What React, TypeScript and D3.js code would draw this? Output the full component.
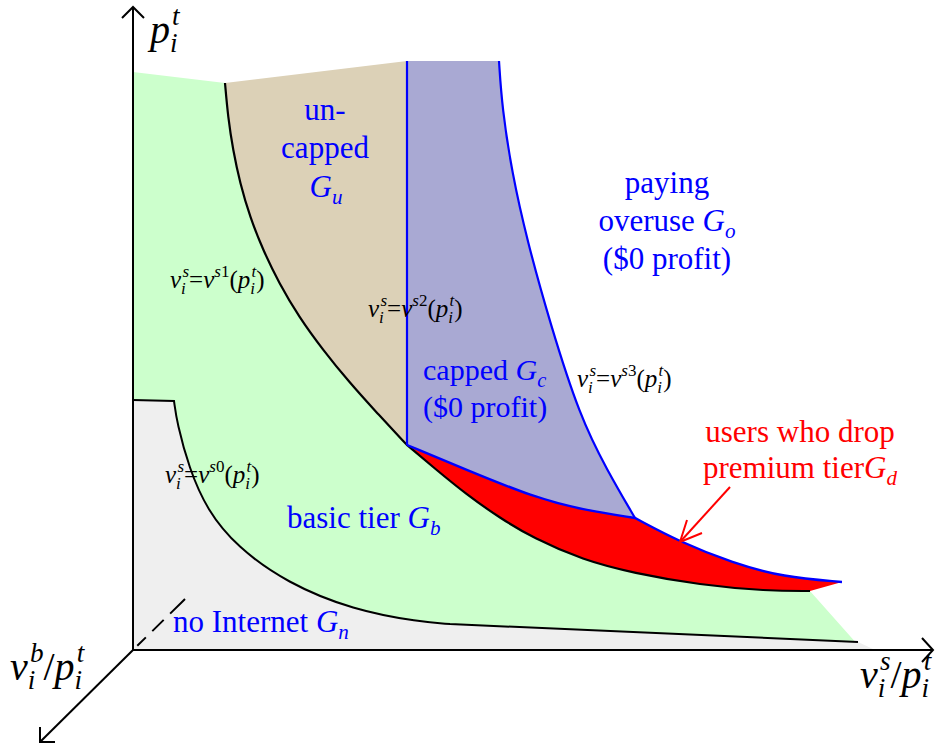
import React from "react";
import * as d3 from "d3";

const width = 943;
const height = 746;

// chart units: x = v^s/p^t axis, y = p^t axis (origin at the corner)
const xScale = d3.scaleLinear().domain([0, 800]).range([133, 933]);
const yScale = d3.scaleLinear().domain([0, 643]).range([650, 7]);

type Pt = [number, number];

const greenTop: Pt[] = [[0, 578], [92, 567]];
const s1Curve: Pt[] = [
  [92, 567], [95, 533], [100, 500], [107, 467], [117, 433], [130, 400],
  [146, 367], [166, 333], [190, 300], [216, 268], [244, 237], [274, 205],
];
const lowerCurve: Pt[] = [
  [274, 205], [300, 183], [334, 155], [367, 132], [400, 112], [450, 90],
  [500, 77], [567, 65], [634, 59], [677, 59],
];
const greenRight: Pt[] = [[677, 59], [725, 5], [0, 5]];
const tanTop: Pt[] = [[92, 567], [274, 589], [274, 205]];
const s2Line: Pt[] = [[274, 589], [274, 205]];
const purpleTop: Pt[] = [[274, 589], [366, 589]];
const s3Curve: Pt[] = [
  [366, 589], [369, 543], [379, 477], [394, 410], [417, 327], [447, 233],
  [474, 180], [502, 132],
];
const blueUpper1: Pt[] = [[274, 205], [334, 180], [400, 153], [450, 140], [502, 132]];
const blueUpper2: Pt[] = [[502, 132], [547, 108], [600, 87], [650, 73], [709, 68]];
const s0Step: Pt[] = [[0, 250], [41, 249]];
const s0Curve: Pt[] = [
  [41, 249], [44, 227], [56, 182], [74, 140], [104, 103], [154, 67],
  [220, 40], [287, 28], [317, 26],
];
const s0Tail: Pt[] = [[317, 26], [725, 8]];
const grayBottom: Pt[] = [[725, 8], [742, 0], [0, 0]];
const dropArrow: Pt[] = [[597, 163], [547, 108]];
const dropArrowHead: Pt[] = [[554, 130], [547, 108], [569, 117]];

const curved = d3
  .line<Pt>()
  .x((d) => xScale(d[0]))
  .y((d) => yScale(d[1]))
  .curve(d3.curveBasis);
const straight = d3
  .line<Pt>()
  .x((d) => xScale(d[0]))
  .y((d) => yScale(d[1]));

const rev = (pts: Pt[]) => pts.slice().reverse();

// joins several pieces into one path, each piece continuing the previous one
function joinPath(pieces: string[], close = true) {
  const d = pieces.map((p, i) => (i === 0 ? p : "L" + p.slice(1))).join("");
  return close ? d + "Z" : d;
}

const serif = "'Times New Roman', Times, 'Liberation Serif', Tinos, 'DejaVu Serif', serif";

type Tok = { t: string; it?: boolean; sub?: string; sup?: string; supNum?: string };

function Formula(props: {
  x: number;
  y: number;
  fs: number;
  fill: string;
  toks: Tok[];
  anchor?: string;
}) {
  const { x, y, fs, fill, toks, anchor } = props;
  const ss = fs * 0.68;
  const spans: React.ReactNode[] = [];
  let off = 0;
  toks.forEach((k, i) => {
    spans.push(
      <tspan key={i + "b"} dy={-off} fontStyle={k.it ? "italic" : "normal"}>
        {k.t}
      </tspan>
    );
    off = 0;
    if (k.sub) {
      const d = fs * 0.22;
      spans.push(
        <tspan key={i + "s"} dy={d} fontSize={ss} fontStyle="italic">
          {k.sub}
        </tspan>
      );
      off = d;
    }
    if (k.sup) {
      const back = k.sub ? -k.sub.length * ss * 0.2 : 0;
      const up = fs * 0.44;
      spans.push(
        <tspan key={i + "p"} dx={back} dy={-up - off} fontSize={ss} fontStyle="italic">
          {k.sup}
        </tspan>
      );
      off = -up;
      if (k.supNum)
        spans.push(
          <tspan key={i + "n"} fontSize={ss} fontStyle="normal">
            {k.supNum}
          </tspan>
        );
    }
  });
  return (
    <text
      x={x}
      y={y}
      fontSize={fs}
      fill={fill}
      fontFamily={serif}
      textAnchor={anchor || "start"}
      style={{ whiteSpace: "pre" }}
    >
      {spans}
    </text>
  );
}

const vs: Tok = { t: "v", it: true, sub: "i", sup: "s" };
const pt: Tok = { t: "p", it: true, sub: "i", sup: "t" };
const formula = (n: string): Tok[] => [
  vs,
  { t: "=" },
  { t: "v", it: true, sup: "s", supNum: n },
  { t: "(" },
  pt,
  { t: ")" },
];

export default function App() {
  const green = joinPath([
    straight(greenTop)!,
    curved(s1Curve)!,
    curved(lowerCurve)!,
    straight(greenRight)!,
  ]);
  const gray = joinPath([
    straight(s0Step)!,
    curved(s0Curve)!,
    straight(s0Tail)!,
    straight(grayBottom)!,
  ]);
  const tan = joinPath([straight(tanTop)!, curved(rev(s1Curve))!]);
  const purple = joinPath([
    straight(purpleTop)!,
    curved(s3Curve)!,
    curved(rev(blueUpper1))!,
  ]);
  const red = joinPath([
    curved(blueUpper1)!,
    curved(blueUpper2)!,
    curved(rev(lowerCurve))!,
  ]);
  const s0Line = joinPath([straight(s0Step)!, curved(s0Curve)!, straight(s0Tail)!], false);
  const blackLine = joinPath([curved(s1Curve)!, curved(lowerCurve)!], false);
  const blueLine = joinPath([curved(blueUpper1)!, curved(blueUpper2)!], false);

  const ox = xScale(0);
  const oy = yScale(0);

  return (
    <svg
      width={width}
      height={height}
      style={{ position: "absolute", left: 0, top: 0, background: "#fff" }}
    >
      <path d={green} fill="#ccffcc" />
      <path d={gray} fill="#efefef" />
      <path d={tan} fill="#dcd1b7" />
      <path d={purple} fill="#a9a9d3" />
      <path d={red} fill="#ff0000" />

      <path d={s0Line} fill="none" stroke="#000" strokeWidth={2} />
      <path d={blackLine} fill="none" stroke="#000" strokeWidth={2.2} />
      <path d={straight(s2Line)!} fill="none" stroke="#0000ff" strokeWidth={2.2} />
      <path d={curved(s3Curve)!} fill="none" stroke="#0000ff" strokeWidth={2.2} />
      <path d={blueLine} fill="none" stroke="#0000ff" strokeWidth={2.4} />

      <path d={straight(dropArrow)!} fill="none" stroke="#ff0000" strokeWidth={2} />
      <path d={straight(dropArrowHead)!} fill="none" stroke="#ff0000" strokeWidth={2} />

      {/* axes */}
      <g stroke="#000" strokeWidth={2} fill="none">
        <line x1={ox} y1={oy} x2={ox} y2={yScale(643)} />
        <path d={`M${ox - 11},${yScale(632)}L${ox},${yScale(643)}L${ox + 11},${yScale(632)}`} />
        <line x1={ox} y1={oy} x2={xScale(800)} y2={oy} />
        <path d={`M${xScale(789)},${oy - 12}L${xScale(800)},${oy}L${xScale(789)},${oy + 12}`} />
        <line x1={ox} y1={oy} x2={40} y2={742} />
        <path d={`M40,727L40,742L55,742`} />
        <line x1={ox} y1={oy} x2={185} y2={599} strokeDasharray="0,6,12,9,16,9,17" />
      </g>

      <Formula x={150} y={43} fs={40} fill="#000" toks={[pt]} />
      <Formula x={860} y={688} fs={40} fill="#000" toks={[vs, { t: "/" }, pt]} />
      <Formula
        x={10}
        y={680}
        fs={40}
        fill="#000"
        toks={[{ t: "v", it: true, sub: "i", sup: "b" }, { t: "/" }, pt]}
      />

      <Formula x={170} y={288} fs={25} fill="#000" toks={formula("1")} />
      <Formula x={368} y={317} fs={25} fill="#000" toks={formula("2")} />
      <Formula x={577} y={387} fs={25} fill="#000" toks={formula("3")} />
      <Formula x={165} y={483} fs={25} fill="#000" toks={formula("0")} />

      <Formula x={325} y={120} fs={31} fill="#0000ff" anchor="middle" toks={[{ t: "un-" }]} />
      <Formula x={325} y={158} fs={31} fill="#0000ff" anchor="middle" toks={[{ t: "capped" }]} />
      <Formula x={326} y={197} fs={31} fill="#0000ff" anchor="middle" toks={[{ t: "G", it: true, sub: "u" }]} />

      <Formula x={667} y={193} fs={31} fill="#0000ff" anchor="middle" toks={[{ t: "paying" }]} />
      <Formula
        x={667}
        y={231}
        fs={31}
        fill="#0000ff"
        anchor="middle"
        toks={[{ t: "overuse " }, { t: "G", it: true, sub: "o" }]}
      />
      <Formula x={667} y={269} fs={31} fill="#0000ff" anchor="middle" toks={[{ t: "($0 profit)" }]} />

      <Formula x={423} y={380} fs={30} fill="#0000ff" toks={[{ t: "capped " }, { t: "G", it: true, sub: "c" }]} />
      <Formula x={423} y={417} fs={30} fill="#0000ff" toks={[{ t: "($0 profit)" }]} />

      <Formula x={287} y={528} fs={31} fill="#0000ff" toks={[{ t: "basic tier " }, { t: "G", it: true, sub: "b" }]} />
      <Formula x={173} y={632} fs={31} fill="#0000ff" toks={[{ t: "no Internet " }, { t: "G", it: true, sub: "n" }]} />

      <Formula x={800} y={442} fs={31} fill="#ff0000" anchor="middle" toks={[{ t: "users who drop" }]} />
      <Formula
        x={800}
        y={478}
        fs={31}
        fill="#ff0000"
        anchor="middle"
        toks={[{ t: "premium tier" }, { t: "G", it: true, sub: "d" }]}
      />
    </svg>
  );
}
